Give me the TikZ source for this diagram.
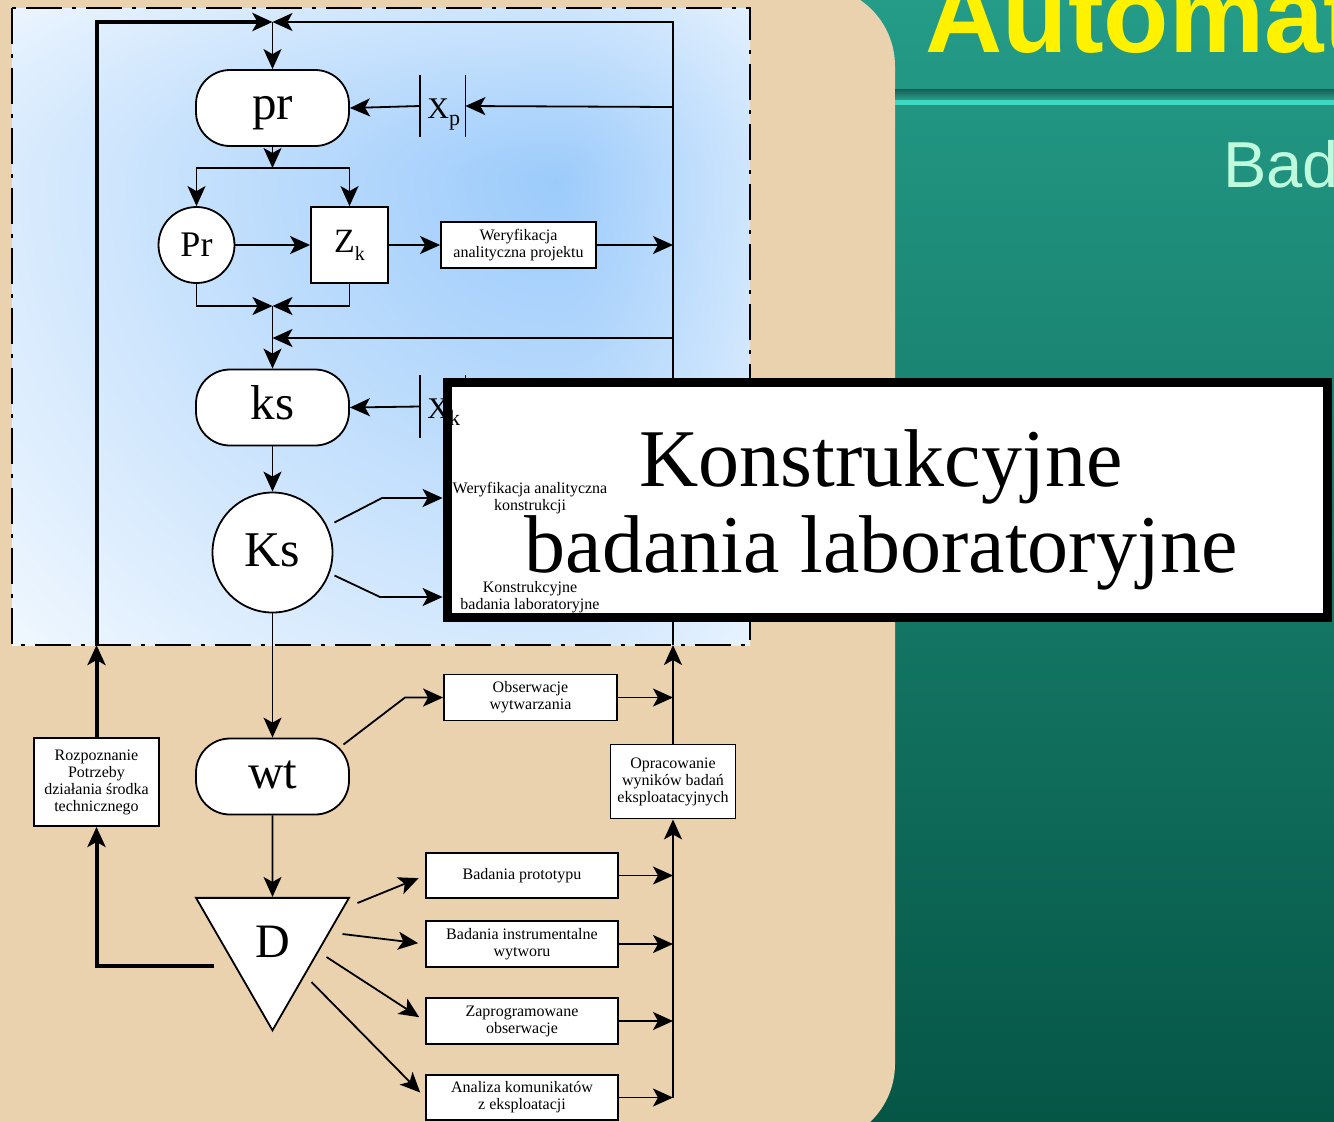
\documentclass[tikz,border=0pt]{standalone}
\usepackage{fontspec}
\setmainfont{Liberation Serif}
\newfontfamily\sansf{Liberation Sans}
\usetikzlibrary{arrows.meta,shapes.geometric,calc}

\definecolor{tealtop}{RGB}{36,156,136}
\definecolor{tealbot}{RGB}{6,86,70}
\definecolor{beige}{RGB}{234,210,175}
\definecolor{skyblue}{RGB}{156,203,251}
\definecolor{mint}{RGB}{190,250,220}
\definecolor{bandtop}{RGB}{21,94,85}
\definecolor{bandbot}{RGB}{42,160,140}
\definecolor{rulecol}{RGB}{62,215,192}

\begin{document}
\begin{tikzpicture}[x=0.5pt,y=-0.5pt,
  >={Stealth[length=10pt,width=9pt,inset=2.5pt]},
  conn/.style={line width=0.9pt,->},
  plain/.style={line width=0.9pt},
  heavy/.style={line width=2pt},
  term/.style={draw,fill=white,line width=0.9pt,rounded corners=17pt,
    minimum width=76.5pt,minimum height=38pt,inner sep=0pt,
    text height=11.8pt,text depth=0pt,font=\fontsize{24.5}{26}\selectfont},
  blk/.style={draw,fill=white,line width=0.9pt,inner sep=0pt,align=center,
    font=\fontsize{8}{8.5}\selectfont},
  note/.style={inner sep=0pt,align=center,font=\fontsize{8}{8.5}\selectfont},
  bar/.style={inner sep=0pt,minimum width=22.5pt,minimum height=31pt},
  dashframe/.style={line width=1.25pt,dash pattern=on 18pt off 5pt on 2pt off 5pt}]

% page and background
\useasboundingbox (0,0) rectangle (1334,1121);
\clip (0,0) rectangle (1334,1121);
\shade[top color=tealtop,bottom color=tealbot] (0,0) rectangle (1334,1121);
\fill[beige,rounded corners=40pt] (-100,-14) rectangle (895,1144);

% slide header
\shade[top color=bandtop,bottom color=bandbot] (895,89) rectangle (1334,100);
\fill[rulecol] (895,100) rectangle (1334,105);
\node[anchor=base west,inner sep=0pt,text=yellow,
  font=\sansf\bfseries\fontsize{53.5}{60}\selectfont] (title) at (925,52) {Automat};
\node[anchor=base west,inner sep=0pt,text=mint,
  font=\sansf\fontsize{32.5}{36}\selectfont] (subtitle) at (1223,187) {Bad};

% design area with its blue glow (four quadrants around the bright spot)
\fill[white] (12,8) rectangle (750,645);
\begin{scope}
  \clip (12,8) rectangle (557,180);
  \shade[inner color=skyblue,outer color=white] (557,180) ellipse [x radius=440pt,y radius=172pt];
\end{scope}
\begin{scope}
  \clip (557,8) rectangle (750,180);
  \shade[inner color=skyblue,outer color=white] (557,180) ellipse [x radius=190pt,y radius=172pt];
\end{scope}
\begin{scope}
  \clip (12,180) rectangle (557,645);
  \shade[inner color=skyblue,outer color=white] (557,180) ellipse [x radius=440pt,y radius=400pt];
\end{scope}
\begin{scope}
  \clip (557,180) rectangle (750,645);
  \shade[inner color=skyblue,outer color=white] (557,180) ellipse [x radius=190pt,y radius=400pt];
\end{scope}
\draw[dashframe] (12,8) rectangle (750,645);

% junctions and bends
\coordinate (J0) at (272.5,22);
\coordinate (J1) at (272.5,168);
\coordinate (J2) at (272.5,306);
\coordinate (J3) at (272.5,338);
\coordinate (fb) at (96.5,645);
\coordinate (rb) at (673,645);
\coordinate (dtail) at (214,966);
\coordinate (xpR) at (673,107);
\coordinate (ksR) at (673,338);
\coordinate (w1R) at (673,245);
\coordinate (obsR) at (673,697.5);
\coordinate (bpR) at (673,875.5);
\coordinate (biR) at (673,944);
\coordinate (zoR) at (673,1021);
\coordinate (akR) at (673,1097.5);
\coordinate (k1) at (382,498);
\coordinate (k2) at (380,597);
\coordinate (w1k) at (405,697.5);

% nodes
\node[term] (pr) at (272.5,108) {pr};
\node[circle,draw,fill=white,line width=0.9pt,minimum size=38pt,inner sep=0pt,
  font=\fontsize{18}{18}\selectfont] (Pr) at (196.5,245) {Pr};
\node[draw,fill=white,line width=0.9pt,minimum width=38.5pt,minimum height=38pt,inner sep=0pt]
  (Zk) at (349.5,245) {\fontsize{17}{17}\selectfont Z\raisebox{-4pt}{\fontsize{10}{10}\selectfont k}};
\node[blk,minimum width=77.5pt,minimum height=23pt] (W1) at (518.5,245)
  {Weryfikacja\\analityczna projektu};
\node[term] (ks) at (272.5,407.5) {ks};
\node[circle,draw,fill=white,line width=0.9pt,minimum size=60pt,inner sep=0pt,
  text height=13.5pt,text depth=0pt,font=\fontsize{25}{25}\selectfont] (Ks) at (272.5,552.5) {Ks};
\node[term] (wt) at (272.5,776.5) {wt};
\node[blk,minimum width=86.5pt,minimum height=23pt] (Obs) at (530.5,697.5)
  {Obserwacje\\wytwarzania};
\node[blk,minimum width=62.5pt,minimum height=37pt] (Opr) at (673,781.5)
  {Opracowanie\\wyników badań\\eksploatacyjnych};
\node[blk,minimum width=62.5pt,minimum height=44pt] (Rozp) at (96.5,782)
  {Rozpoznanie\\Potrzeby\\działania środka\\technicznego};
\node[draw,fill=white,line width=0.9pt,regular polygon,regular polygon sides=3,
  shape border rotate=180,minimum size=88.3pt,inner sep=0pt,
  font=\fontsize{24}{24}\selectfont] (D) at (272.5,942) {D};
\node[blk,minimum width=96pt,minimum height=22.5pt] (bp) at (522,875.5) {Badania prototypu};
\node[blk,minimum width=96pt,minimum height=23pt] (bi) at (522,944)
  {Badania instrumentalne\\wytworu};
\node[blk,minimum width=96pt,minimum height=23pt] (zo) at (522,1021)
  {Zaprogramowane\\obserwacje};
\node[blk,minimum width=96pt,minimum height=22.5pt] (ak) at (522,1097.5)
  {Analiza komunikatów\\z eksploatacji};

% design-variable markers
\node[bar] (Xp) at (442.5,106) {};
\draw[plain] (Xp.north west) -- (Xp.south west);
\draw[plain] (Xp.north east) -- (Xp.south east);
\node[anchor=base west,inner sep=0pt] (XpT) at (427,118)
  {\fontsize{15}{15}\selectfont X\raisebox{-3.5pt}{\fontsize{11}{11}\selectfont p}};
\node[bar] (XkM) at (442.5,406.5) {};
\draw[plain] (XkM.north west) -- (XkM.south west);
\draw[plain] (XkM.north east) -- (XkM.south east);

% outer feedback loop
\draw[heavy,->] (dtail) -| (Rozp.south);
\draw[heavy,->] (Rozp.north) -- (fb);
\draw[heavy,->] (fb) |- (J0);
\draw[conn] (Opr.north) -- (rb);
\draw[conn] (rb) |- (J0);
\draw[conn] (J0) -- (pr.north);

% design stage
\draw[conn] (xpR) -- (Xp.east);
\draw[conn] (Xp.west) -- (pr.east);
\draw[conn] (pr.south) -- (J1);
\draw[conn] (J1) -| (Pr.north);
\draw[conn] (J1) -| (Zk.north);
\draw[conn] (Pr) -- (Zk);
\draw[conn] (Zk) -- (W1);
\draw[conn] (W1) -- (w1R);
\draw[conn] (Pr.south) |- (J2);
\draw[conn] (Zk.south) |- (J2);
\draw[conn] (J2) -- (ks.north);
\draw[conn] (ksR) -- (J3);

% construction stage
\draw[conn] (XkM.west) -- (ks.east);
\draw[conn] (ks.south) -- (Ks.north);
\draw[conn] (Ks.south) -- (wt.north);

% manufacturing and operation
\draw[conn] ($(wt.center)+(71,-32)$) -- (w1k) -- (Obs.west);
\draw[conn] (Obs.east) -- (obsR);
\draw[conn] (wt.south) -- (D.north);
\draw[conn,shorten >=3.5pt] ($(D.center)+(85,-39)$) -- (bp.west);
\draw[conn,shorten >=3.5pt] ($(D.center)+(70,-8)$) -- (bi.west);
\draw[conn,shorten >=3.5pt] ($(D.center)+(54,15)$) -- (zo.west);
\draw[conn,shorten >=3.5pt] ($(D.center)+(39,40)$) -- (ak.west);
\draw[conn] (bp.east) -- (bpR);
\draw[conn] (bi.east) -- (biR);
\draw[conn] (zo.east) -- (zoR);
\draw[conn] (ak.east) -- (akR);
\draw[conn] (akR) -- (Opr.south);

% highlighted caption panel
\node[fill=white,minimum width=440pt,minimum height=117.5pt,inner sep=0pt] (kbox) at (887.5,500) {};
\node[anchor=base west,inner sep=0pt] (XkT) at (427,418.5)
  {\fontsize{15}{15}\selectfont X\raisebox{-3.5pt}{\fontsize{11}{11}\selectfont k}};
\node[note,minimum width=87pt,minimum height=22pt] (lab1) at (530,498)
  {Weryfikacja analityczna\\konstrukcji};
\node[note,minimum width=87pt,minimum height=22pt] (lab2) at (530,597)
  {Konstrukcyjne\\badania laboratoryjne};
\draw[conn] ($(Ks.center)+(62,-30)$) -- (k1) -- (lab1.west);
\draw[conn] ($(Ks.center)+(62,23)$) -- (k2) -- (lab2.west);
\draw[line width=4.5pt] (kbox.north west) rectangle (kbox.south east);
\node[align=center,inner sep=0pt,font=\fontsize{41}{43}\selectfont] (ktext) at (881,510)
  {Konstrukcyjne\\badania laboratoryjne};
\end{tikzpicture}
\end{document}
